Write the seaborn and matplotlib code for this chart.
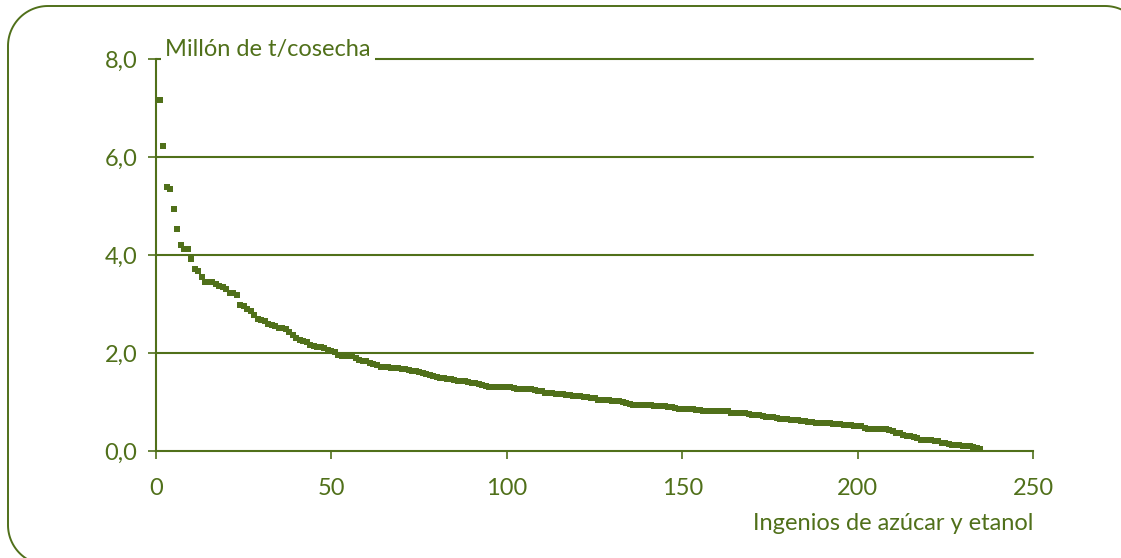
import numpy as np
import pandas as pd
import matplotlib.pyplot as plt
import seaborn as sns

# Producción por ingenio (millón de t/cosecha), ordenada de mayor a menor
produccion = [
    7.16, 6.22, 5.39, 5.35, 4.94, 4.53, 4.20, 4.12, 4.12, 3.92,
    3.71, 3.67, 3.55, 3.45, 3.45, 3.44, 3.41, 3.37, 3.35, 3.30,
    3.22, 3.22, 3.18, 2.98, 2.96, 2.90, 2.86, 2.78, 2.70, 2.67,
    2.66, 2.60, 2.57, 2.55, 2.51, 2.51, 2.49, 2.42, 2.36, 2.30,
    2.26, 2.24, 2.22, 2.16, 2.14, 2.13, 2.12, 2.10, 2.06, 2.04,
    2.03, 1.96, 1.94, 1.94, 1.93, 1.93, 1.90, 1.86, 1.84, 1.83,
    1.80, 1.77, 1.75, 1.72, 1.71, 1.71, 1.70, 1.70, 1.69, 1.68,
    1.67, 1.65, 1.63, 1.63, 1.62, 1.59, 1.57, 1.56, 1.53, 1.51,
    1.50, 1.48, 1.47, 1.46, 1.44, 1.43, 1.43, 1.42, 1.40, 1.39,
    1.38, 1.36, 1.35, 1.32, 1.31, 1.31, 1.31, 1.31, 1.30, 1.30,
    1.30, 1.29, 1.27, 1.27, 1.26, 1.26, 1.26, 1.25, 1.23, 1.22,
    1.19, 1.18, 1.18, 1.17, 1.17, 1.16, 1.14, 1.14, 1.13, 1.13,
    1.12, 1.10, 1.10, 1.09, 1.08, 1.05, 1.04, 1.04, 1.04, 1.03,
    1.03, 1.02, 0.99, 0.98, 0.95, 0.94, 0.94, 0.94, 0.93, 0.93,
    0.93, 0.92, 0.92, 0.91, 0.91, 0.90, 0.90, 0.87, 0.86, 0.86,
    0.86, 0.85, 0.85, 0.84, 0.83, 0.82, 0.82, 0.82, 0.82, 0.82,
    0.81, 0.81, 0.81, 0.78, 0.78, 0.78, 0.77, 0.77, 0.76, 0.74,
    0.73, 0.73, 0.72, 0.70, 0.69, 0.69, 0.68, 0.66, 0.65, 0.65,
    0.64, 0.64, 0.63, 0.61, 0.61, 0.60, 0.60, 0.58, 0.57, 0.57,
    0.57, 0.57, 0.56, 0.56, 0.55, 0.53, 0.53, 0.53, 0.52, 0.52,
    0.51, 0.47, 0.45, 0.45, 0.45, 0.45, 0.44, 0.44, 0.43, 0.40,
    0.37, 0.36, 0.33, 0.31, 0.31, 0.29, 0.27, 0.23, 0.22, 0.22,
    0.22, 0.21, 0.20, 0.17, 0.16, 0.15, 0.13, 0.12, 0.12, 0.11,
    0.10, 0.10, 0.09, 0.06, 0.04,
]
ingenios = list(range(1, len(produccion) + 1))

y_ticks = [0, 2, 4, 6, 8]
y_labels = ["0,0", "2,0", "4,0", "6,0", "8,0"]
x_ticks = [0, 50, 100, 150, 200, 250]

verde = "#50701A"

sns.set_theme(style="white")
plt.rcParams["font.family"] = ["Lato", "DejaVu Sans"]

df = pd.DataFrame({"ingenio": ingenios, "produccion": produccion})

fig = plt.figure(figsize=(11.21, 5.58), dpi=100)

# capa de fondo en píxeles para el marco redondeado
fondo = fig.add_axes([0, 0, 1, 1], zorder=0)
fondo.set_xlim(0, 1121)
fondo.set_ylim(558, 0)
fondo.axis("off")


def esquina(cx, cy, r, a0, a1):
    t = np.linspace(np.radians(a0), np.radians(a1), 30)
    return cx + r * np.cos(t), cy + r * np.sin(t)


r = 40
izq, der, arr, aba = 8, 1145, 6, 565
partes = [
    esquina(izq + r, aba - r, r, 90, 180),
    esquina(izq + r, arr + r, r, 180, 270),
    esquina(der - r, arr + r, r, 270, 360),
    esquina(der - r, aba - r, r, 0, 90),
]
mx = np.concatenate([p[0] for p in partes] + [partes[0][0][:1]])
my = np.concatenate([p[1] for p in partes] + [partes[0][1][:1]])
fondo.plot(mx, my, color=verde, linewidth=1.4, clip_on=True)

ax = fig.add_axes([156 / 1121, 107 / 558, 877 / 1121, 392 / 558], zorder=1)

for y in y_ticks[1:]:
    ax.axhline(y, color=verde, linewidth=1.5, zorder=1, clip_on=False)

sns.scatterplot(data=df, x="ingenio", y="produccion", marker="s", s=22,
                color=verde, linewidth=0, ax=ax, zorder=3)

ax.set_xlim(0, 250)
ax.set_ylim(0, 8)
ax.set_xticks(x_ticks)
ax.set_yticks(y_ticks)
ax.set_yticklabels(y_labels)

for lado in ["top", "right"]:
    ax.spines[lado].set_visible(False)
for lado in ["left", "bottom"]:
    ax.spines[lado].set_color(verde)
    ax.spines[lado].set_linewidth(1.5)

ax.tick_params(axis="y", direction="out", length=5.5, width=1.2, color=verde,
               labelcolor=verde, labelsize=17, pad=8, left=True)
ax.tick_params(axis="x", direction="out", length=5.5, width=1.2, color=verde,
               labelcolor=verde, labelsize=17, pad=14, bottom=True)

ax.set_xlabel("Ingenios de azúcar y etanol", color=verde, fontsize=17,
              loc="right", labelpad=10)
ax.set_ylabel("")

ax.text(2.6, 8.06, "Millón de t/cosecha", color=verde, fontsize=17,
        ha="left", va="baseline", zorder=5,
        bbox=dict(facecolor="white", edgecolor="none", pad=3))

fig.savefig("out.png", dpi=100)
